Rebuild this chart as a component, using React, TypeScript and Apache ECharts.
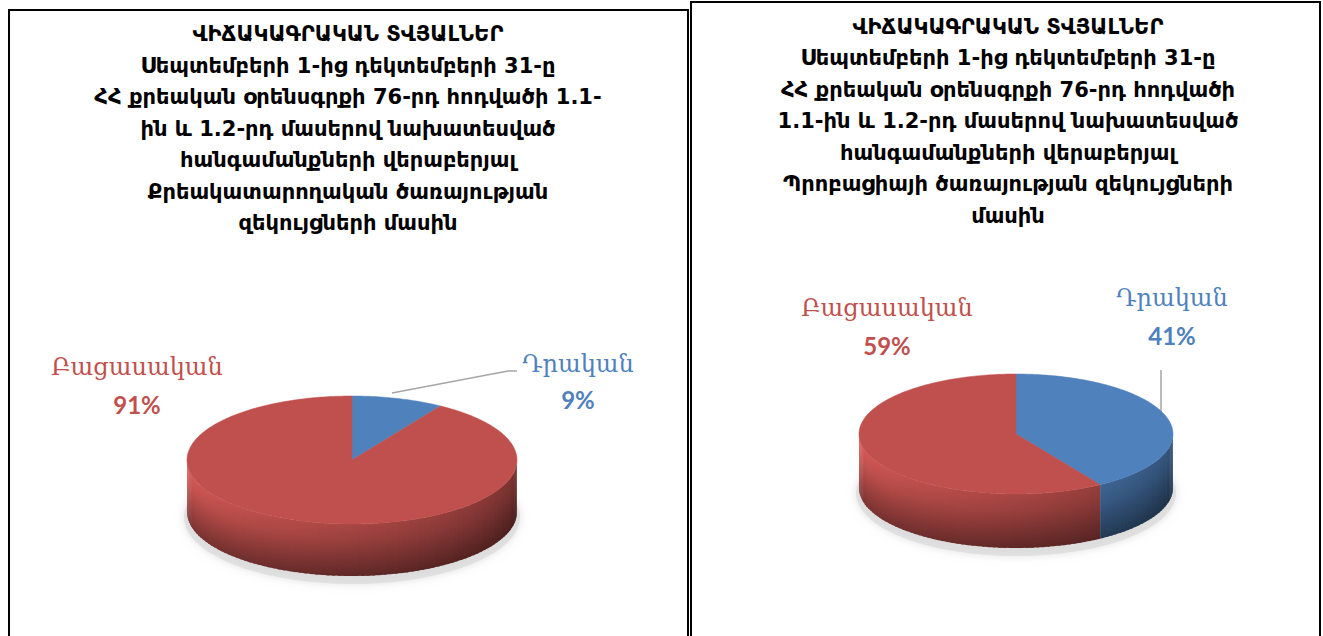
import React, { useEffect, useRef } from "react";
import * as echarts from "echarts";

const categories = ["Դրական", "Բացասական"];
const leftValues = [9, 91];
const rightValues = [41, 59];
const leftTitle = [
  "ՎԻՃԱԿԱԳՐԱԿԱՆ ՏՎՅԱԼՆԵՐ",
  "Սեպտեմբերի 1-ից դեկտեմբերի 31-ը",
  "ՀՀ քրեական օրենսգրքի 76-րդ հոդվածի 1.1-",
  "ին և 1.2-րդ մասերով նախատեսված",
  "հանգամանքների վերաբերյալ",
  "Քրեակատարողական ծառայության",
  "զեկույցների մասին",
];
const rightTitle = [
  "ՎԻՃԱԿԱԳՐԱԿԱՆ ՏՎՅԱԼՆԵՐ",
  "Սեպտեմբերի 1-ից դեկտեմբերի 31-ը",
  "ՀՀ քրեական օրենսգրքի 76-րդ հոդվածի",
  "1.1-ին և 1.2-րդ մասերով նախատեսված",
  "հանգամանքների վերաբերյալ",
  "Պրոբացիայի ծառայության զեկույցների",
  "մասին",
];
const sliceColors = ["#4F81BD", "#C0504D"];

function hexToRgb(h: string) {
  const n = parseInt(h.slice(1), 16);
  return [(n >> 16) & 255, (n >> 8) & 255, n & 255];
}
function shade(hex: string, f: number) {
  const [r, g, b] = hexToRgb(hex);
  const c = (v: number) => Math.max(0, Math.min(255, Math.round(v * f)));
  return `rgb(${c(r)},${c(g)},${c(b)})`;
}

function pieSeries(values: number[], cx: number, cy: number, rx: number, ry: number, depth: number) {
  const total = values.reduce((a, b) => a + b, 0);
  let acc = 0;
  const data = values.map((v, i) => {
    const start = (acc / total) * 360;
    acc += v;
    return [v, i, start, (acc / total) * 360];
  });
  const pt = (deg: number, dy = 0) => {
    const t = (deg * Math.PI) / 180;
    return [cx + rx * Math.sin(t), cy - ry * Math.cos(t) + dy];
  };
  return {
    type: "custom",
    coordinateSystem: "none",
    silent: true,
    data,
    renderItem: (params: any, api: any) => {
      const i = api.value(1);
      const a0 = api.value(2);
      const a1 = api.value(3);
      const base = sliceColors[i];
      const children: any[] = [];
      if (params.dataIndex === 0) {
        children.push({
          type: "ellipse",
          z2: 0,
          shape: { cx: cx, cy: cy + depth + 5, rx: rx + 3, ry: ry + 3 },
          style: { fill: "rgba(215,215,215,0.6)", shadowBlur: 8, shadowColor: "rgba(170,170,170,0.6)" },
        });
      }
      const s = Math.max(a0, 90);
      const e = Math.min(a1, 270);
      if (e > s) {
        const step = 2;
        for (let t = s; t < e; t += step) {
          const t2 = Math.min(e, t + step + 0.8);
          const p1 = pt(t), p2 = pt(t2), p3 = pt(t2, depth), p4 = pt(t, depth);
          const tm = t + step / 2;
          const f = Math.max(0, Math.min(1, (tm - 90) / 180));
          const lf = 0.55 + 0.5 * f;
          children.push({
            type: "polygon",
            z2: 2,
            shape: { points: [p1, p2, p3, p4] },
            style: {
              fill: {
                type: "linear", x: 0, y: 0, x2: 0, y2: 1,
                colorStops: [
                  { offset: 0, color: shade(base, 1.1 * lf) },
                  { offset: 0.3, color: shade(base, 1.0 * lf) },
                  { offset: 1, color: shade(base, 0.62 * lf) },
                ],
              },
            },
          });
        }
      }
      const pts: number[][] = [[cx, cy]];
      for (let t = a0; t < a1; t += 1) pts.push(pt(t));
      pts.push(pt(a1));
      children.push({
        type: "polygon",
        z2: 10,
        shape: { points: pts },
        style: { fill: base, stroke: base, lineWidth: 0.5 },
      });
      return { type: "group", children };
    },
  };
}

const titleStyle = {
  fontFamily: "DejaVu Sans",
  fontWeight: "bold",
  fontSize: 21,
  lineHeight: 31.5,
  fill: "#000",
  textAlign: "center",
  textVerticalAlign: "top",
};

function label(x: number, y: number, text: string, color: string, bold: boolean) {
  return {
    type: "text",
    x,
    y,
    style: {
      text,
      fill: color,
      fontFamily: bold ? "Lato" : "DejaVu Serif",
      fontSize: bold ? 24 : 24,
      fontWeight: bold ? "bold" : "normal",
      textAlign: "center",
      textVerticalAlign: "middle",
    },
  };
}

export default function App() {
  const ref = useRef<HTMLDivElement>(null);
  useEffect(() => {
    if (!ref.current) return;
    const chart = echarts.init(ref.current, undefined, { renderer: "svg" });
    const pct = (vals: number[], i: number) =>
      Math.round((vals[i] / vals.reduce((a, b) => a + b, 0)) * 100) + "%";
    chart.setOption({
      animation: false,
      backgroundColor: "#fff",
      series: [
        pieSeries(leftValues, 352, 460, 165, 64, 52),
        pieSeries(rightValues, 1016, 434, 157, 60, 54),
      ],
      graphic: [
        { type: "rect", shape: { x: 9, y: 10, width: 679, height: 660 }, style: { fill: "none", stroke: "#000", lineWidth: 2 } },
        { type: "rect", shape: { x: 691, y: 2, width: 629, height: 670 }, style: { fill: "none", stroke: "#000", lineWidth: 2 } },
        { type: "text", x: 348, y: 18.5, style: { ...titleStyle, text: leftTitle.join("\n") } },
        { type: "text", x: 1008, y: 11, style: { ...titleStyle, text: rightTitle.join("\n") } },
        label(137, 367, categories[1], "#C0504D", false),
        label(137, 404, pct(leftValues, 1), "#C0504D", true),
        label(578, 364, categories[0], "#4F81BD", false),
        label(578, 399, pct(leftValues, 0), "#4F81BD", true),
        label(887, 308, categories[1], "#C0504D", false),
        label(887, 345, pct(rightValues, 1), "#C0504D", true),
        label(1172, 298, categories[0], "#4F81BD", false),
        label(1172, 335, pct(rightValues, 0), "#4F81BD", true),
        { type: "polyline", shape: { points: [[392, 393], [508, 371], [517, 371]] }, style: { stroke: "#A6A6A6", lineWidth: 1.5, fill: "none" } },
        { type: "line", shape: { x1: 1161, y1: 370, x2: 1161, y2: 412 }, style: { stroke: "#A6A6A6", lineWidth: 1.5 } },
      ],
    });
    return () => chart.dispose();
  }, []);
  return (
    <div
      ref={ref}
      style={{ position: "fixed", left: 0, top: 0, width: 1323, height: 636 }}
    />
  );
}
